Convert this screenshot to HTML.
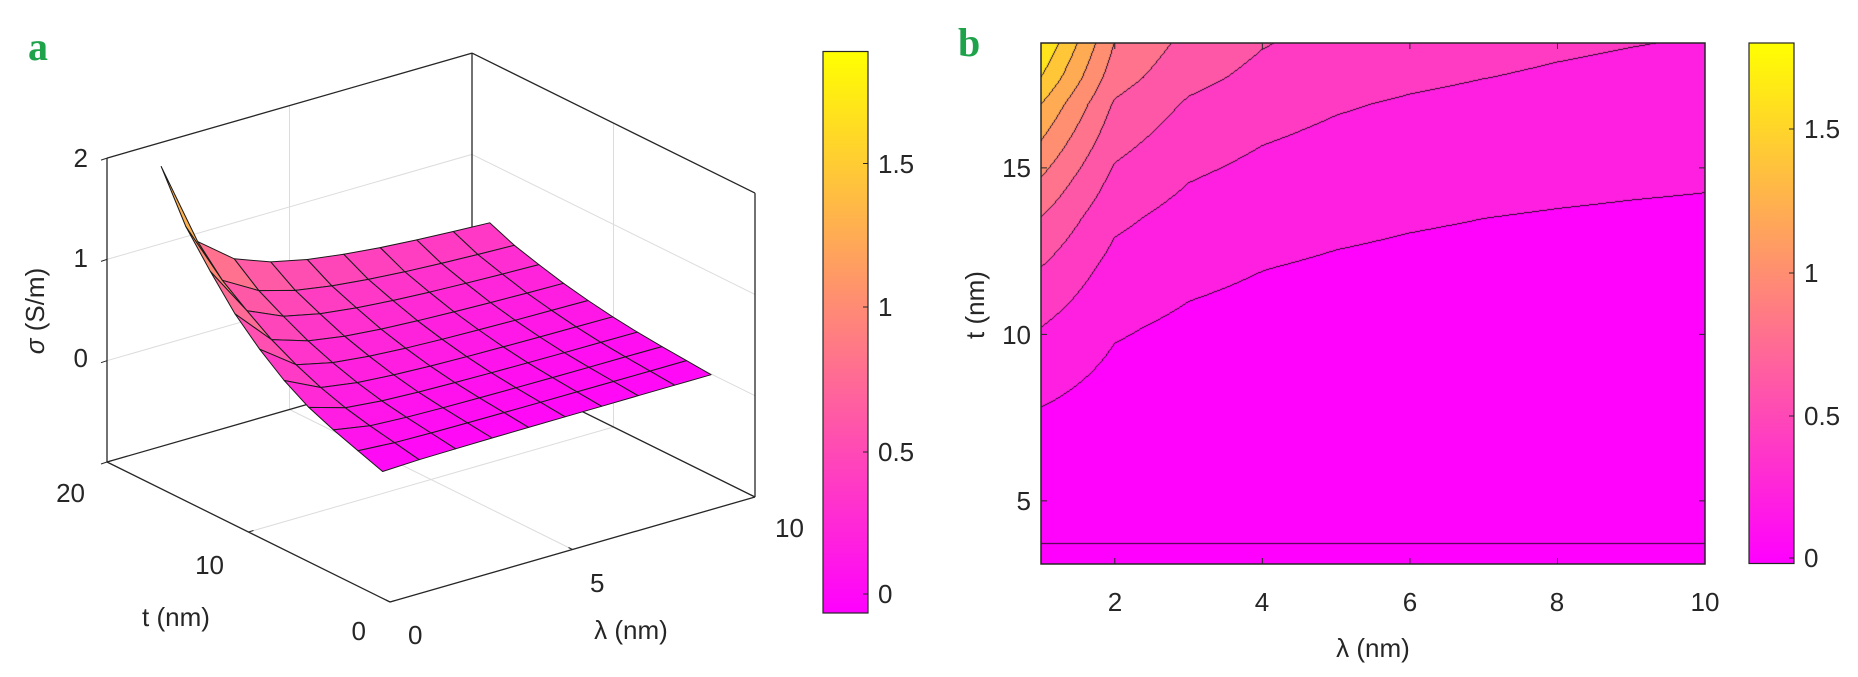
<!DOCTYPE html>
<html><head><meta charset="utf-8">
<style>
html,body{margin:0;padding:0;background:#fff;}
#wrap{position:relative;width:1858px;height:677px;overflow:hidden;}
svg{position:absolute;left:0;top:0;}
canvas{position:absolute;left:1041px;top:43px;}
text{font-family:"Liberation Sans",Arial,sans-serif;font-size:26px;fill:#262626;}
</style></head>
<body><div id="wrap">
<canvas id="cv" width="664" height="521"></canvas>
<svg id="sv" width="1858" height="677" xmlns="http://www.w3.org/2000/svg">
<defs>
<linearGradient id="spring" x1="0" y1="1" x2="0" y2="0">
<stop offset="0" stop-color="#ff00ff"/><stop offset="1" stop-color="#ffff00"/>
</linearGradient>
</defs>
<g id="g3d"></g>
<g id="gtop"></g>
<!-- 3D labels -->
<text x="88" y="167" text-anchor="end">2</text>
<text x="88" y="267" text-anchor="end">1</text>
<text x="88" y="367" text-anchor="end">0</text>
<text x="85" y="502" text-anchor="end">20</text>
<text x="224" y="574" text-anchor="end">10</text>
<text x="366" y="640" text-anchor="end">0</text>
<text x="176" y="626" text-anchor="middle">t (nm)</text>
<text x="408" y="644">0</text>
<text x="590" y="592">5</text>
<text x="775" y="537">10</text>
<text x="631" y="639" text-anchor="middle">λ (nm)</text>
<text transform="translate(44,311) rotate(-90)" text-anchor="middle"><tspan font-style="italic">σ</tspan> (S/m)</text>
<text x="28" y="60" style="font-family:'Liberation Serif',serif;font-weight:bold;font-size:40px;fill:#1ea24a">a</text>
<text x="958" y="56" style="font-family:'Liberation Serif',serif;font-weight:bold;font-size:40px;fill:#1ea24a">b</text>
<!-- colorbar a -->
<rect x="823" y="51.5" width="45" height="561.5" fill="url(#spring)" stroke="#262626" stroke-width="1.2"/>
<g stroke="#262626" stroke-width="1"><line x1="868" y1="163.5" x2="863" y2="163.5"/><line x1="868" y1="307" x2="863" y2="307"/><line x1="868" y1="452" x2="863" y2="452"/><line x1="868" y1="594" x2="863" y2="594"/></g>
<text x="878" y="173">1.5</text><text x="878" y="316">1</text><text x="878" y="461">0.5</text><text x="878" y="603">0</text>
<!-- colorbar b -->
<rect x="1749" y="43" width="45" height="520.5" fill="url(#spring)" stroke="#262626" stroke-width="1.2"/>
<g stroke="#262626" stroke-width="1"><line x1="1794" y1="129" x2="1789" y2="129"/><line x1="1794" y1="273" x2="1789" y2="273"/><line x1="1794" y1="416" x2="1789" y2="416"/><line x1="1794" y1="558" x2="1789" y2="558"/></g>
<text x="1804" y="138">1.5</text><text x="1804" y="282">1</text><text x="1804" y="425">0.5</text><text x="1804" y="567">0</text>
<!-- contour axes -->
<rect x="1041" y="43" width="664" height="521" fill="none" stroke="#262626" stroke-width="1.5"/>
<g id="cticks" stroke="#262626" stroke-width="1"></g>
<text x="1115" y="611" text-anchor="middle">2</text>
<text x="1262" y="611" text-anchor="middle">4</text>
<text x="1410" y="611" text-anchor="middle">6</text>
<text x="1557" y="611" text-anchor="middle">8</text>
<text x="1705" y="611" text-anchor="middle">10</text>
<text x="1031" y="177" text-anchor="end">15</text>
<text x="1031" y="344" text-anchor="end">10</text>
<text x="1031" y="510" text-anchor="end">5</text>
<text x="1373" y="657" text-anchor="middle">λ (nm)</text>
<text transform="translate(984,305) rotate(-90)" text-anchor="middle">t (nm)</text>
</svg>
</div>
<script>
(function(){
var NS="http://www.w3.org/2000/svg";
var Fp=[[3.1,-0.03],[3.7,0],[7.8,.2],[10.2,.4],[12,.6],[13.5,.8],[14.7,1],[15.8,1.2],[16.9,1.4],[17.7,1.6],[18.75,1.8]];
function F(t){
  if(t<=Fp[0][0])return Fp[0][1];
  for(var i=1;i<Fp.length;i++){if(t<=Fp[i][0]){var a=Fp[i-1],b=Fp[i];return a[1]+(b[1]-a[1])*(t-a[0])/(b[0]-a[0]);}}
  var a=Fp[Fp.length-2],b=Fp[Fp.length-1];return b[1]+(b[1]-a[1])*(t-b[0])/(b[0]-a[0]);
}
function gI(l){return 0.14+0.86/Math.pow(l,1.05);}
function g(l){var a=Math.floor(l),b=Math.min(a+1,10);if(a>=10)return gI(10);var f=l-a;return gI(a)*(1-f)+gI(b)*f;}
function sig(l,t){return g(l)*F(t);}
function spring(v){v=Math.max(0,Math.min(1,v));return [255,Math.round(255*v),Math.round(255*(1-v))];}
// contour canvas
var cv=document.getElementById('cv'),ctx=cv.getContext('2d');
var W=664,H=521,img=ctx.createImageData(W,H),band=new Int16Array(W*H);
for(var y=0;y<H;y++){var t=18.75-(y+0.5)/33.3;for(var x=0;x<W;x++){var l=1+(x+0.5)/73.78;var s=sig(l,t);band[y*W+x]=Math.floor(s/0.2+1e-9);}}
for(var y=0;y<H;y++)for(var x=0;x<W;x++){
  var k=band[y*W+x],lev=Math.max(k*0.2,-0.02);var c=spring((lev+0.02)/1.82);
  var edge=(x<W-1&&band[y*W+x+1]!=k)||(y<H-1&&band[(y+1)*W+x]!=k);
  var i=(y*W+x)*4;
  if(edge){c=[40,10,40];}
  img.data[i]=c[0];img.data[i+1]=c[1];img.data[i+2]=c[2];img.data[i+3]=255;
}
ctx.putImageData(img,0,0);
// contour ticks
var ct=document.getElementById('cticks'),h='';
for(var v=2;v<=10;v+=2){var px=1041+(v-1)*73.78;h+='<line x1="'+px+'" y1="564" x2="'+px+'" y2="558"/><line x1="'+px+'" y1="43" x2="'+px+'" y2="49"/>';}
[15,10,5].forEach(function(v){var py=43+(18.75-v)*33.3;h+='<line x1="1041" y1="'+py+'" x2="1047" y2="'+py+'"/><line x1="1705" y1="'+py+'" x2="1699" y2="'+py+'"/>';});
ct.innerHTML=h;
// 3D
function P(l,t,z){return [390+36.5*l-14.15*t,500.7-10.5*l-7*t-101.3*z];}
function ln(a,b,col,w){return '<line x1="'+a[0].toFixed(1)+'" y1="'+a[1].toFixed(1)+'" x2="'+b[0].toFixed(1)+'" y2="'+b[1].toFixed(1)+'" stroke="'+col+'" stroke-width="'+w+'"/>';}
var s='',gc='#dcdcdc';
// grid lines back walls
[0,1].forEach(function(z){s+=ln(P(0,20,z),P(10,20,z),gc,1);s+=ln(P(10,20,z),P(10,0,z),gc,1);});
s+=ln(P(5,20,-1),P(5,20,2),gc,1);s+=ln(P(10,10,-1),P(10,10,2),gc,1);
s+=ln(P(5,0,-1),P(5,20,-1),gc,1);s+=ln(P(0,10,-1),P(10,10,-1),gc,1);
var k='#262626';
s+=ln(P(0,20,-1),P(0,20,2),k,1.3);s+=ln(P(0,20,2),P(10,20,2),k,1.3);s+=ln(P(10,20,2),P(10,0,2),k,1.3);
s+=ln(P(10,20,-1),P(10,20,2),k,1.3);s+=ln(P(10,0,-1),P(10,0,2),k,1.3);
s+=ln(P(0,20,-1),P(10,20,-1),k,1.3);s+=ln(P(10,20,-1),P(10,0,-1),k,1.3);
s+=ln(P(0,20,-1),P(0,0,-1),k,1.3);s+=ln(P(0,0,-1),P(10,0,-1),k,1.3);
// ticks
[2,1,0,-1].forEach(function(z){var a=P(0,20,z);s+=ln(a,[a[0]-6,a[1]+2],k,1);});
[0,10,20].forEach(function(t){var a=P(0,t,-1);s+=ln(a,[a[0]+5,a[1]-1.5],k,1);});
[0,5,10].forEach(function(l){var a=P(l,0,-1);s+=ln(a,[a[0]-4,a[1]-2],k,1);});
// surface
var ts=[],N=10;for(var j=0;j<N;j++)ts.push(3.1+(18.75-3.1)*j/(N-1));
function Z(l,t){var f=F(t);if(t>=18.7)f=1.9;return gI(l)*f;}
var faces=[];
for(var i=1;i<10;i++)for(var j=0;j<N-1;j++){
  var c=[[i,ts[j]],[i+1,ts[j]],[i+1,ts[j+1]],[i,ts[j+1]]];
  var zs=c.map(function(q){return Z(q[0],q[1]);});
  var pts=c.map(function(q,m){return P(q[0],q[1],zs[m]);});
  var zm=(zs[0]+zs[1]+zs[2]+zs[3])/4;
  var lm=i+0.5,tm=(ts[j]+ts[j+1])/2;
  faces.push({d:lm+2.58*tm-0.282*zm,pts:pts,z:zm});
}
faces.sort(function(a,b){return b.d-a.d;});
faces.forEach(function(f){var c=spring((f.z+0.066)/1.956);
 s+='<polygon points="'+f.pts.map(function(p){return p[0].toFixed(1)+','+p[1].toFixed(1);}).join(' ')+'" fill="rgb('+c.join(',')+')" stroke="#1a1a1a" stroke-width="1" stroke-linejoin="round"/>';});
document.getElementById('g3d').innerHTML=s;
})();
</script>
</body></html>
